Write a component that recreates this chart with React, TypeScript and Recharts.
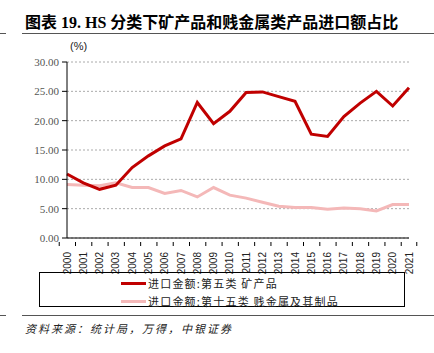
import { LineChart, Line, XAxis, YAxis, CartesianGrid } from "recharts";

const years = [
  "2000", "2001", "2002", "2003", "2004", "2005", "2006", "2007", "2008", "2009", "2010",
  "2011", "2012", "2013", "2014", "2015", "2016", "2017", "2018", "2019", "2020", "2021",
];
// 进口金额:第五类 矿产品 (%)
const mineral = [
  10.9, 9.4, 8.3, 9.0, 12.0, 14.0, 15.7, 16.9, 23.1, 19.5, 21.6,
  24.8, 24.9, 24.1, 23.3, 17.7, 17.3, 20.7, 23.0, 25.0, 22.5, 25.6,
];
// 进口金额:第十五类 贱金属及其制品 (%)
const baseMetal = [
  9.1, 9.0, 8.9, 9.4, 8.6, 8.6, 7.6, 8.1, 7.0, 8.6, 7.3,
  6.8, 6.1, 5.4, 5.2, 5.2, 4.9, 5.1, 5.0, 4.6, 5.7, 5.7,
];
const yTicks = [0, 5, 10, 15, 20, 25, 30];

const RED = "#C00000";
const PINK = "#F4B8B8";
const seriesNames = ["进口金额:第五类 矿产品", "进口金额:第十五类 贱金属及其制品"];

const data = years.map((y, i) => ({ year: y, mineral: mineral[i], baseMetal: baseMetal[i] }));

const BAND = 342 / years.length;

// tick marks sit on category boundaries, labels rotated
function YearTick(props: any) {
  const { x, y, payload, index } = props;
  return (
    <g>
      <line x1={x - BAND / 2} x2={x - BAND / 2} y1={y - 4} y2={y} stroke="#000" />
      {index === years.length - 1 && (
        <line x1={x + BAND / 2} x2={x + BAND / 2} y1={y - 4} y2={y} stroke="#000" />
      )}
      <text
        x={x + 3.5}
        y={y + 6}
        transform={`rotate(-90, ${x + 3.5}, ${y + 6})`}
        textAnchor="end"
        fontSize={10}
        fontFamily="Liberation Sans, Arial, sans-serif"
        fill="#222"
      >
        {payload.value}
      </text>
    </g>
  );
}

export default function App() {
  return (
    <div style={{ position: "absolute", left: 0, top: 0, width: 434, height: 353, background: "#fff" }}>
      <div
        style={{
          position: "absolute",
          left: 25,
          top: 9,
          fontSize: 16,
          fontWeight: "bold",
          fontFamily: "Liberation Serif, Noto Sans CJK SC, serif",
          whiteSpace: "nowrap",
          letterSpacing: 0,
          color: "#000",
        }}
      >
        图表 19. HS 分类下矿产品和贱金属类产品进口额占比
      </div>
      <div style={{ position: "absolute", left: 22, top: 33, width: 412, height: 1, background: "#555" }} />
      <div style={{ position: "absolute", left: 0, top: 33, width: 6, height: 1, background: "#555" }} />
      <div
        style={{
          position: "absolute",
          left: 70,
          top: 40,
          fontSize: 11,
          fontFamily: "Liberation Sans, Arial, sans-serif",
          color: "#222",
        }}
      >
        (%)
      </div>
      <div style={{ position: "absolute", left: 0, top: 0 }}>
        <LineChart width={434} height={353} data={data} margin={{ top: 62, right: 25, bottom: 85, left: 7 }}>
          <CartesianGrid vertical={false} stroke="#aaa" strokeDasharray="2 2" />
          <XAxis
            dataKey="year"
            interval={0}
            height={30}
            axisLine={{ stroke: "#000" }}
            tickLine={false}
            tick={<YearTick />}
          />
          <YAxis
            width={60}
            domain={[0, 30]}
            ticks={yTicks}
            interval={0}
            tickFormatter={(v) => v.toFixed(2)}
            axisLine={{ stroke: "#000" }}
            tickLine={{ stroke: "#000" }}
            tickSize={5}
            tickMargin={3}
            tick={{ fontSize: 11, fontFamily: "Liberation Serif, Times New Roman, serif", fill: "#555" }}
          />
          <Line dataKey="baseMetal" stroke={PINK} strokeWidth={3} dot={false} isAnimationActive={false} />
          <Line dataKey="mineral" stroke={RED} strokeWidth={3} dot={false} isAnimationActive={false} />
        </LineChart>
      </div>
      <div
        style={{
          position: "absolute",
          left: 39,
          top: 272,
          width: 366,
          height: 35,
          border: "1px solid #000",
          boxSizing: "border-box",
        }}
      >
        {[RED, PINK].map((c, i) => (
          <div
            key={i}
            style={{
              position: "absolute",
              left: 81,
              top: 3 + i * 18,
              display: "flex",
              alignItems: "center",
              height: 14,
              whiteSpace: "nowrap",
              fontSize: 11,
              fontFamily: "Noto Sans CJK SC, sans-serif",
              color: "#222",
              letterSpacing: 1.2,
            }}
          >
            <span style={{ display: "inline-block", width: 25, height: 3, background: c, marginRight: 2 }} />
            {seriesNames[i]}
          </div>
        ))}
      </div>
      <div style={{ position: "absolute", left: 22, top: 315, width: 412, height: 1, background: "#555" }} />
      <div style={{ position: "absolute", left: 0, top: 315, width: 6, height: 1, background: "#555" }} />
      <div
        style={{
          position: "absolute",
          left: 25,
          top: 320,
          fontSize: 11,
          fontStyle: "italic",
          fontFamily: "Noto Sans CJK SC, sans-serif",
          color: "#222",
          letterSpacing: 2,
        }}
      >
        资料来源：统计局，万得，中银证券
      </div>
    </div>
  );
}
